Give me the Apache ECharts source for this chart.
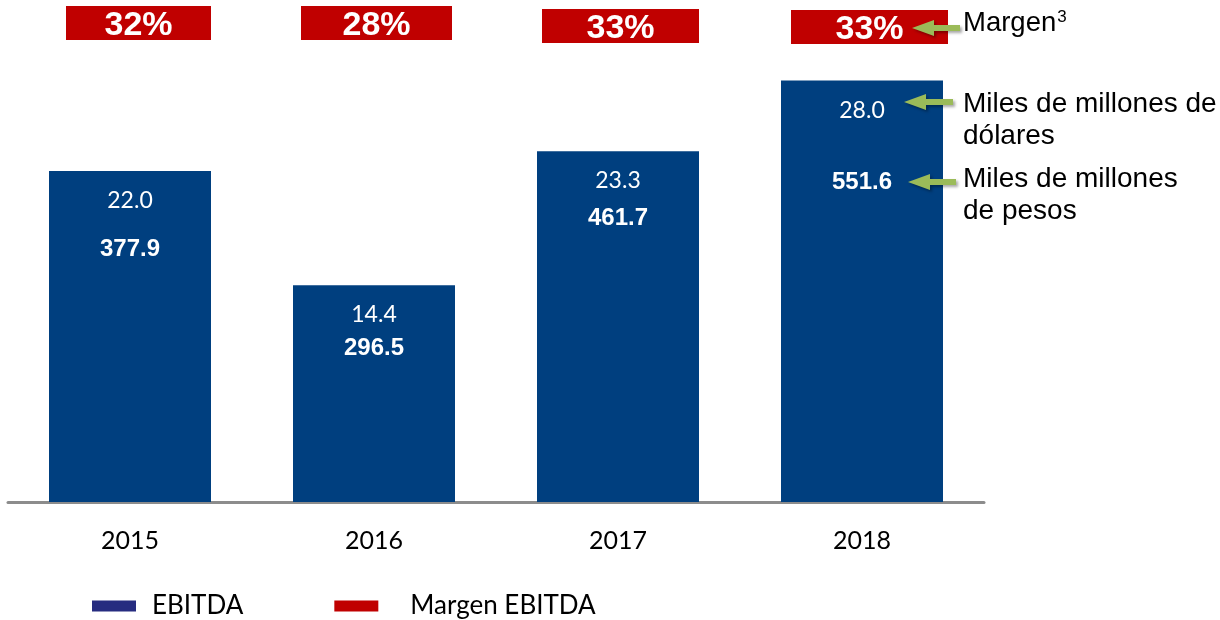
<!DOCTYPE html>
<html>
<head>
<meta charset="utf-8">
<script src="https://cdn.jsdelivr.net/npm/echarts@6/dist/echarts.min.js"></script>
<style>
html,body{margin:0;padding:0;background:#fff;}
#chart{width:1220px;height:620px;}
</style>
</head>
<body>
<div id="chart"></div>
<script>
// ---- data ----
var years = ['2015', '2016', '2017', '2018'];
var ebitdaUSD = [22.0, 14.4, 23.3, 28.0];      // miles de millones de dólares (bar height)
var ebitdaMXN = [377.9, 296.5, 461.7, 551.6];  // miles de millones de pesos
var margen = [32, 28, 33, 33];                 // margen EBITDA (%)

// ---- layout (not data) ----
var pesosLabelDist = [66, 51, 55, 90];
var boxOffL = [17, 8, 5, 10];
var boxOffR = [0, -3, 0, 5];
var boxTop = [6, 6, 9, 10];
var BAR_W = 162, BOX_H = 34;

var chart = echarts.init(document.getElementById('chart'), null, {renderer: 'canvas'});

function arrow(tipX, y, tailX) {
  var hl = 22, hh = 8, st = 3;
  return {
    type: 'polygon',
    shape: {points: [[tipX, y], [tipX + hl, y - hh], [tipX + hl, y - st], [tailX, y - st], [tailX, y + st], [tipX + hl, y + st], [tipX + hl, y + hh]]},
    style: {fill: '#9BBB59', shadowBlur: 3, shadowColor: 'rgba(0,0,0,0.35)', shadowOffsetX: 2, shadowOffsetY: 2},
    z: 100
  };
}
function txt(x, y, s, size) {
  return {type: 'text', x: x, y: y, z: 100,
    style: {text: s, fill: '#000', font: (size || 28) + 'px "Liberation Sans", Arial, sans-serif', verticalAlign: 'middle', align: 'left'}};
}

var option = {
  backgroundColor: '#ffffff',
  animation: false,
  grid: {left: 8, right: 236, top: 50.5, bottom: 118},
  xAxis: {
    type: 'category',
    data: years,
    axisLine: {show: true, lineStyle: {color: '#8C8C8C', width: 3}},
    axisTick: {show: false},
    axisLabel: {color: '#000', fontFamily: 'Lato', fontSize: 25, margin: 26}
  },
  yAxis: {type: 'value', min: 0, max: 30, show: false, splitLine: {show: false}},
  legend: {
    data: [
      {name: 'EBITDA', itemStyle: {color: '#262C80'}},
      {name: 'Margen EBITDA', itemStyle: {color: '#C00000'}, textStyle: {padding: [0, 0, 0, 27]}}
    ],
    left: 87, top: 588,
    icon: 'rect', itemWidth: 44, itemHeight: 11, itemGap: 91,
    textStyle: {color: '#000', fontFamily: 'Lato', fontSize: 26, padding: [0, 0, 0, 11]}
  },
  series: [
    {
      name: 'EBITDA',
      type: 'bar',
      data: ebitdaUSD,
      barWidth: BAR_W,
      itemStyle: {color: '#003F7F'},
      label: {
        show: true, position: 'insideTop', distance: 18,
        color: '#fff', fontFamily: 'Lato', fontSize: 23,
        formatter: function (p) { return ebitdaUSD[p.dataIndex].toFixed(1); }
      },
      z: 2
    },
    {
      name: 'pesos',
      type: 'bar',
      barGap: '-100%',
      barWidth: BAR_W,
      silent: true,
      itemStyle: {color: 'rgba(0,0,0,0)'},
      data: ebitdaUSD.map(function (v, i) {
        return {value: v, label: {distance: pesosLabelDist[i]}};
      }),
      label: {
        show: true, position: 'insideTop',
        color: '#fff', fontFamily: '"Liberation Sans", Arial, sans-serif', fontWeight: 'bold', fontSize: 24,
        formatter: function (p) { return ebitdaMXN[p.dataIndex].toFixed(1); }
      },
      z: 3
    },
    {
      name: 'Margen EBITDA',
      type: 'custom',
      itemStyle: {color: '#C00000'},
      data: years.map(function (y, i) { return [i, margen[i]]; }),
      clip: false,
      renderItem: function (params, api) {
        var i = params.dataIndex;
        var cx = api.coord([api.value(0), 0])[0];
        var x0 = cx - BAR_W / 2 + boxOffL[i];
        var x1 = cx + BAR_W / 2 + boxOffR[i];
        var y0 = boxTop[i];
        return {
          type: 'group',
          children: [
            {type: 'rect', shape: {x: x0, y: y0, width: x1 - x0, height: BOX_H}, style: {fill: '#C00000'}},
            {type: 'text', x: (x0 + x1) / 2, y: y0 + BOX_H / 2 + 3,
              style: {text: api.value(1) + '%', fill: '#fff', align: 'center', verticalAlign: 'middle',
                font: 'bold 34px "Liberation Sans", Arial, sans-serif'}}
          ]
        };
      },
      z: 5
    }
  ],
  graphic: [
    arrow(912, 28, 960),
    arrow(904, 102, 953),
    arrow(908, 182, 956),
    {type: 'text', x: 963, y: 23, z: 100,
      style: {text: '{m|Margen}{s|3}', verticalAlign: 'middle', align: 'left',
        rich: {
          m: {fontFamily: '"Liberation Sans", Arial, sans-serif', fontSize: 27.5, color: '#000'},
          s: {fontFamily: '"Liberation Sans", Arial, sans-serif', fontSize: 17, color: '#000', padding: [0, 0, 12, 1]}
        }}},
    txt(963, 104, 'Miles de millones de', 28),
    txt(963, 136, 'dólares', 28),
    txt(963, 179, 'Miles de millones', 28),
    txt(963, 211, 'de pesos', 28)
  ]
};
chart.setOption(option);
</script>
</body>
</html>
